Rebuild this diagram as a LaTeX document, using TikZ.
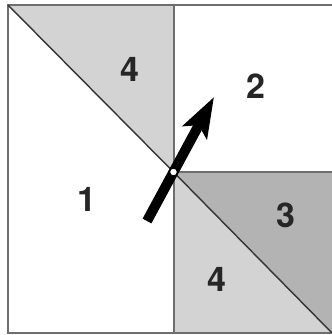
\documentclass[tikz,border=0pt]{standalone}
\usepackage{fontspec}
\setmainfont{TeX Gyre Heros}
\usetikzlibrary{arrows.meta}
\definecolor{lightg}{HTML}{D3D3D3}
\definecolor{darkg}{HTML}{B3B3B3}
\definecolor{edgeg}{HTML}{6E6E6E}
\tikzset{
  edge/.style={draw=edgeg, line width=2pt},
  diag/.style={draw=black!80, line width=1.4pt},
  lbl/.style={font=\fontsize{34}{34}\selectfont\bfseries, text=black!85, inner sep=0pt},
}
\begin{document}
\begin{tikzpicture}[x=1pt,y=-1pt]
\useasboundingbox (0,0) rectangle (332,335);
\coordinate (tl) at (8,5);
\coordinate (tm) at (173.5,5);
\coordinate (tr) at (332,5);
\coordinate (bl) at (8,333);
\coordinate (bm) at (173.5,333);
\coordinate (br) at (332,333);
\coordinate (c) at (173.5,172);
\coordinate (mr) at (332,172);
% fills
\fill[lightg] (tl) -- (tm) -- (c) -- cycle;
\fill[lightg] (c) -- (mr) -- (br) -- (bm) -- cycle;
\fill[darkg] (c) -- (mr) -- (br) -- cycle;
% lines
\draw[edge] (tr) -- (tl) -- (bl) -- (br);
\draw[edge] (tm) -- (bm);
\draw[edge] (c) -- (mr);
\draw[diag] (tl) -- (c) -- (br);
% labels
\node[lbl] (l4a) at (130,69) {4};
\node[lbl] (l2) at (256,86) {2};
\node[lbl] (l1) at (87,199) {1};
\node[lbl] (l3) at (286,215) {3};
\node[lbl] (l4b) at (217,279) {4};
% arrow
\coordinate (tail) at (147,221);
\coordinate (tip) at (214,97);
\draw[line width=10pt, black, -{Stealth[length=40pt, width=27pt, inset=8pt]}] (tail) -- (tip);
\node[circle, draw=black, fill=white, line width=1.2pt, minimum size=8pt, inner sep=0pt] (pivot) at (c) {};
\end{tikzpicture}
\end{document}
